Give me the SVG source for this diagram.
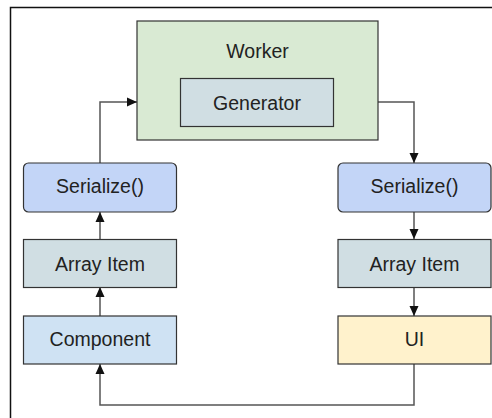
<svg xmlns="http://www.w3.org/2000/svg" width="492" height="418" viewBox="0 0 492 418">
<style>
.n{stroke:#333;stroke-width:1.2}
.t{font-family:"Liberation Sans",Arial,sans-serif;font-size:19.5px;fill:#222;text-anchor:middle}
.c{fill:none;stroke:#555;stroke-width:1.5}
</style>
<defs>
<marker id="a" viewBox="0 0 10 10" refX="10" refY="5" markerWidth="10" markerHeight="10" markerUnits="userSpaceOnUse" orient="auto">
<path d="M0,0.5 L10,5 L0,9.5 Z" fill="#111"/>
</marker>
</defs>
<rect x="0" y="0" width="492" height="418" fill="#fff"/>
<path d="M10.5,418 V7.5 H492" fill="none" stroke="#111" stroke-width="1.5"/>
<g id="connectors">
<path class="c" d="M100,163 V102 H137" marker-end="url(#a)"/>
<path class="c" d="M378,102 H414 V163" marker-end="url(#a)"/>
<path class="c" d="M100,239 V212" marker-end="url(#a)"/>
<path class="c" d="M100,316 V287" marker-end="url(#a)"/>
<path class="c" d="M414,212 V239" marker-end="url(#a)"/>
<path class="c" d="M414,287 V316" marker-end="url(#a)"/>
<path class="c" d="M414,364 V405 H100 V364" marker-end="url(#a)"/>
</g>
<g id="worker">
<rect class="n" x="137" y="21" width="241" height="119" fill="#d9ead3"/>
<text class="t" x="257.5" y="58">Worker</text>
</g>
<g id="generator">
<rect class="n" x="180.5" y="78.5" width="153" height="48" fill="#d0dee3"/>
<text class="t" x="257" y="110">Generator</text>
</g>
<g id="serialize-left">
<rect class="n" x="23.5" y="163" width="153" height="49" rx="5" fill="#c3d5f7"/>
<text class="t" x="100" y="193">Serialize()</text>
</g>
<g id="serialize-right">
<rect class="n" x="338" y="163" width="153" height="49" rx="5" fill="#c3d5f7"/>
<text class="t" x="414.5" y="193">Serialize()</text>
</g>
<g id="array-left">
<rect class="n" x="23.5" y="239.5" width="153" height="48" fill="#d0dee3"/>
<text class="t" x="100" y="270.5">Array Item</text>
</g>
<g id="array-right">
<rect class="n" x="338" y="239.5" width="153" height="48" fill="#d0dee3"/>
<text class="t" x="414.5" y="270.5">Array Item</text>
</g>
<g id="component">
<rect class="n" x="23.5" y="316" width="153" height="48" fill="#cfe2f3"/>
<text class="t" x="100" y="346">Component</text>
</g>
<g id="ui">
<rect class="n" x="338" y="316" width="153" height="48" fill="#fff2cc"/>
<text class="t" x="414.5" y="346">UI</text>
</g>
</svg>
